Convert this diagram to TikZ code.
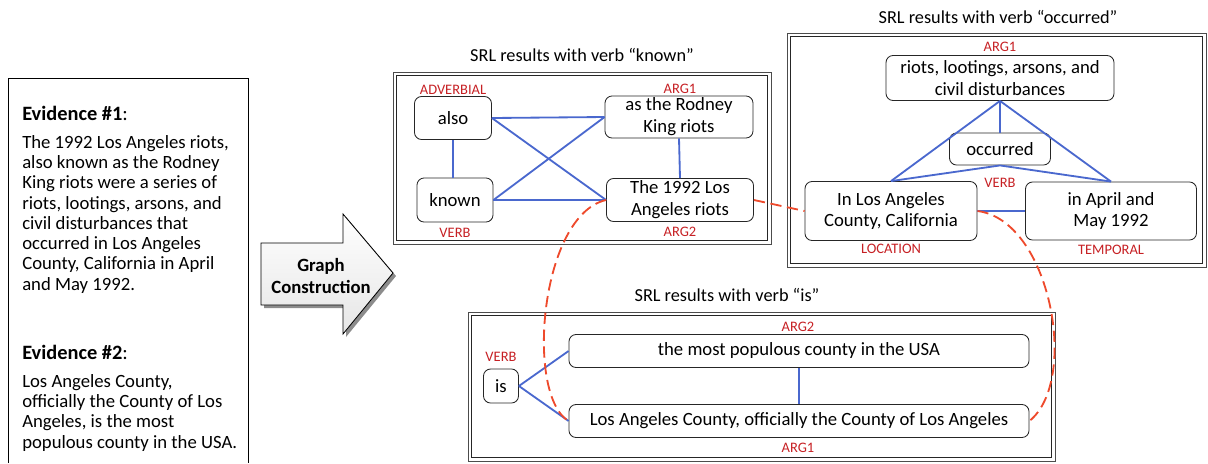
\documentclass[tikz,border=0pt]{standalone}
\usepackage{fontspec}
\setmainfont{Carlito}
\usetikzlibrary{calc}
\definecolor{srlblue}{RGB}{74,104,206}
\definecolor{srlred}{RGB}{198,32,36}
\definecolor{linkred}{RGB}{238,74,44}
\tikzset{
  srlnode/.style={draw=black!85, line width=0.6pt, rounded corners=5pt, align=center, inner sep=0pt,
    font=\fontsize{13.3}{15.6}\selectfont},
  srlsize/.style 2 args={minimum width=#1*0.025cm, minimum height=#2*0.025cm},
  srlrole/.style={text=srlred, inner sep=0pt, font=\fontsize{10.3}{11}\selectfont},
  srltitle/.style={inner sep=0pt, font=\fontsize{13}{14}\selectfont},
  srledge/.style={srlblue, line width=1.3pt},
  srllink/.style={linkred, line width=1.3pt, dash pattern=on 8pt off 4pt},
  evtext/.style={anchor=base west, align=left, inner sep=0pt, font=\fontsize{13.3}{14.4}\selectfont},
  evhead/.style={anchor=base west, inner sep=0pt, font=\fontsize{14.5}{15}\selectfont},
}
\def\srlframe(#1)(#2){\draw[line width=0.5pt, black!70] (#1) rectangle (#2);
  \draw[line width=1.1pt, black!85] ($(#1)+(3.5,3.5)$) rectangle ($(#2)+(-3.5,-3.5)$);}

\begin{document}
\begin{tikzpicture}[x=0.025cm, y=-0.025cm]
			%%%%% START %%%%%
			\useasboundingbox (0, 0) rectangle (1208, 463);
			
			% evidence
			\draw[line width=0.6pt] (8, 463) -- (8, 78) -- (248, 78) -- (248, 463);
			\node[evhead] (ev1) at (22, 120) {\textbf{Evidence \#1}:};
			\node[evtext] (ev1text) at (22, 290) {The 1992 Los Angeles riots,\\also known as the Rodney\\King riots were a series of\\riots, lootings, arsons, and\\civil disturbances that\\occurred in Los Angeles\\County, California in April\\and May 1992.};
			\node[evhead] (ev2) at (22, 359) {\textbf{Evidence \#2}:};
			\node[evtext] (ev2text) at (22, 448) {Los Angeles County,\\officially the County of Los\\Angeles, is the most\\populous county in the USA.};
			
			% arrow
			\fill[black!45] (264, 246) -- (346, 246) -- (346, 217) -- (396, 276) -- (346, 337) -- (346, 308) -- (264, 308) -- cycle;
			\draw[line width=0.6pt, top color=white, bottom color=black!10] (261, 243) -- (343, 243) -- (343, 214) -- (393, 273) -- (343, 334) -- (343, 305) -- (261, 305) -- cycle;
			\node[align=center, inner sep=0pt, font=\fontsize{13.3}{16.3}\selectfont\bfseries] (gc) at (321, 276) {Graph\\Construction};
			
			% verb "known"
			\node[srltitle] (ktitle) at (582, 55) {SRL results with verb “known”};
			\srlframe(393, 72)(771, 244)
			\node[srlnode, srlsize={77}{43}] (also) at (453, 118) {also};
			\node[srlnode, srlsize={76}{44}] (known) at (455, 200) {known};
			\node[srlnode, srlsize={148}{42}] (rodney) at (679, 117) {as the Rodney\\King riots};
			\node[srlnode, srlsize={147}{43}] (riots) at (680, 200) {The 1992 Los\\Angeles riots};
			\node[srlrole] (kadv) at (453, 90) {ADVERBIAL};
			\node[srlrole] (karg1) at (680, 89) {ARG1};
			\node[srlrole] (kverb) at (455, 233) {VERB};
			\node[srlrole] (karg2) at (680, 232) {ARG2};
			\draw[srledge] (also.south) -- (also.south |- known.north);
			\draw[srledge] (also.east) -- (rodney.west);
			\draw[srledge] (also.east) -- (riots.west);
			\draw[srledge] (known.east) -- (rodney.west);
			\draw[srledge] (known.east) -- (riots.west);
			\draw[srledge] (rodney.south) -- (riots.north);
			
			% verb "occurred"
			\node[srltitle] (otitle) at (998, 17) {SRL results with verb “occurred”};
			\srlframe(787, 33)(1206, 267)
			\node[srlnode, srlsize={228}{45}] (disturb) at (1000, 78) {riots, lootings, arsons, and\\civil disturbances};
			\node[srlnode, srlsize={101}{32}] (occurred) at (1000, 149) {occurred};
			\node[srlnode, srlsize={172}{59}] (lacounty) at (891, 211) {In Los Angeles\\County, California};
			\node[srlnode, srlsize={171}{58}] (april) at (1111, 211) {in April and\\May 1992};
			\node[srlrole] (oarg1) at (1000, 47) {ARG1};
			\node[srlrole] (overb) at (1000, 183) {VERB};
			\node[srlrole] (oloc) at (891, 249) {LOCATION};
			\node[srlrole] (otmp) at (1111, 250) {TEMPORAL};
			\draw[srledge] (disturb.south) -- (occurred.north);
			\draw[srledge] (disturb.south) -- (lacounty.north);
			\draw[srledge] (disturb.south) -- (april.north);
			\draw[srledge] (occurred.south) -- (lacounty.north);
			\draw[srledge] (occurred.south) -- (april.north);
			\draw[srledge] (lacounty.east) -- (april.west);
			
			% verb "is"
			\node[srltitle] (ititle) at (727, 295) {SRL results with verb “is”};
			\srlframe(468, 312)(1055, 461)
			\node[srlnode, srlsize={35}{34}] (is) at (501, 386) {is};
			\node[srlnode, srlsize={460}{33}] (populous) at (799, 351) {the most populous county in the USA};
			\node[srlnode, srlsize={460}{33}] (officially) at (799, 421) {Los Angeles County, officially the County of Los Angeles};
			\node[srlrole] (iverb) at (501, 357) {VERB};
			\node[srlrole] (iarg2) at (798, 327) {ARG2};
			\node[srlrole] (iarg1) at (798, 448) {ARG1};
			\draw[srledge] (is.east) -- (populous.west);
			\draw[srledge] (is.east) -- (officially.west);
			\draw[srledge] (populous.south) -- (officially.north);
			
			% links between graphs
			\draw[srllink] (riots.east) -- (lacounty.west);
			\draw[srllink] (riots.west) .. controls (540, 215) and (525, 395) .. (officially.west);
			\draw[srllink] (lacounty.east) .. controls (1050, 220) and (1080, 380) .. (officially.east);
			
			%%%%% END %%%%%
		\end{tikzpicture}
\end{document}
